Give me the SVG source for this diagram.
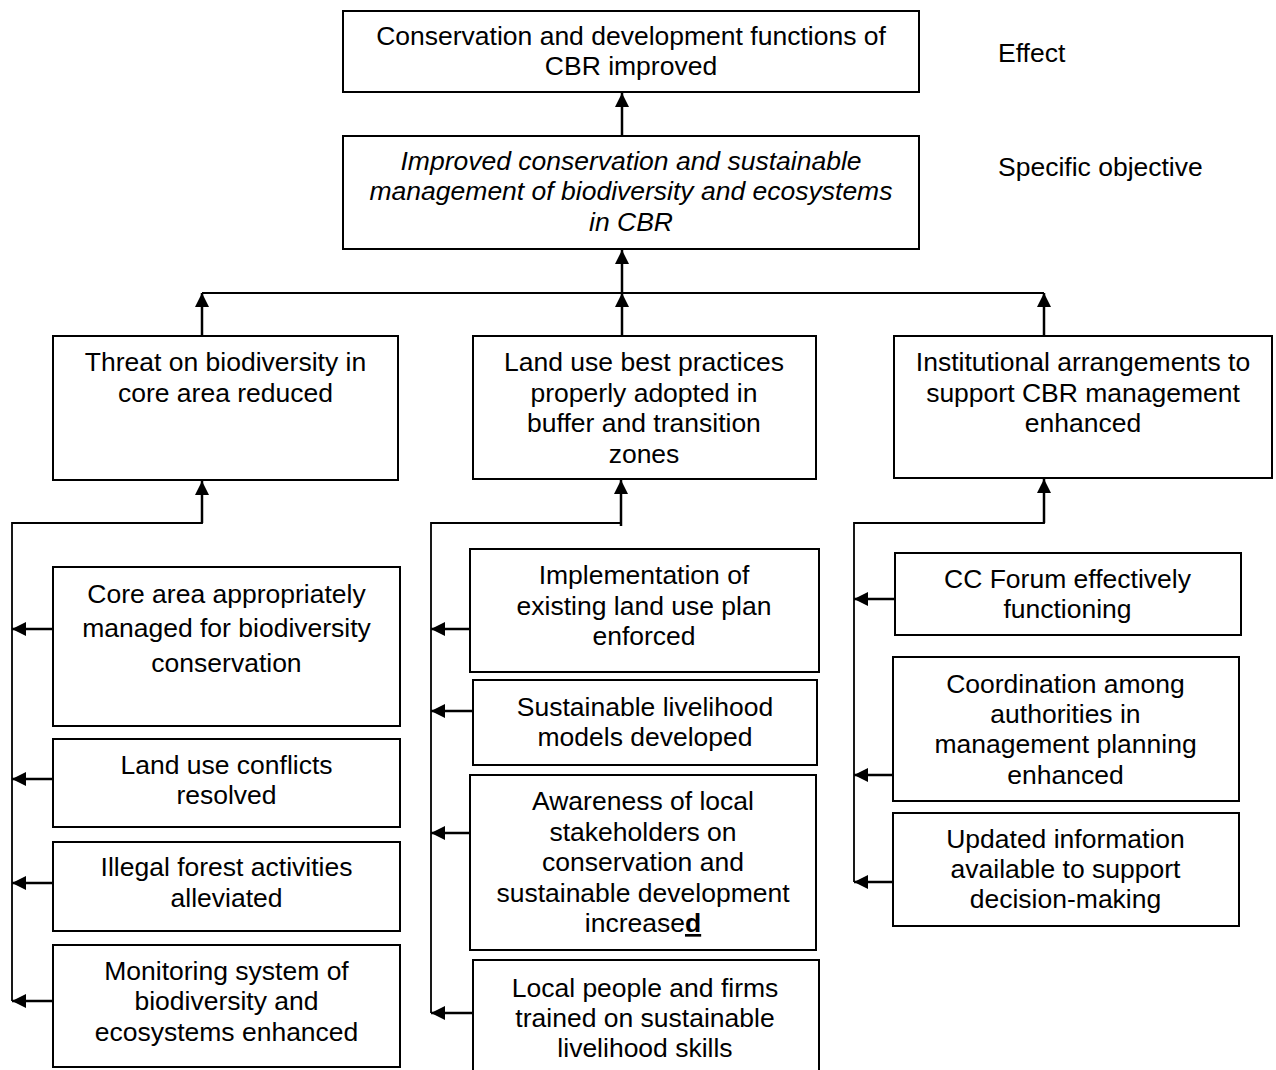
<svg xmlns="http://www.w3.org/2000/svg" width="1276" height="1070" viewBox="0 0 1276 1070">
<defs>
<style>
.box{fill:#fff;stroke:#000;stroke-width:2}
.t{font-family:"Liberation Sans",Arial,sans-serif;font-size:26.5px;fill:#000;text-anchor:middle}
.lbl{font-family:"Liberation Sans",Arial,sans-serif;font-size:26.5px;fill:#000}
.it{font-style:italic}
.c{fill:none;stroke:#000;stroke-width:2.5}
.bus{fill:none;stroke:#000;stroke-width:1.8}
</style>
<marker id="ah" markerUnits="userSpaceOnUse" markerWidth="14" markerHeight="14" refX="14" refY="7" orient="auto">
<path d="M0,0 L14,7 L0,14 z" fill="#000"/>
</marker>
</defs>
<rect width="1276" height="1070" fill="#fff"/>

<g id="connectors">
<line class="c" x1="622" y1="136" x2="622" y2="93" marker-end="url(#ah)"/>
<line class="bus" x1="202" y1="293" x2="1044" y2="293"/>
<line class="c" x1="622" y1="293" x2="622" y2="250" marker-end="url(#ah)"/>
<line class="c" x1="202" y1="336" x2="202" y2="293" marker-end="url(#ah)"/>
<line class="c" x1="622" y1="336" x2="622" y2="293" marker-end="url(#ah)"/>
<line class="c" x1="1044" y1="336" x2="1044" y2="293" marker-end="url(#ah)"/>

<polyline class="bus" points="12,1001 12,523 202,523 202,500"/>
<line class="c" x1="202" y1="523" x2="202" y2="481" marker-end="url(#ah)"/>
<line class="c" x1="53" y1="629" x2="12" y2="629" marker-end="url(#ah)"/>
<line class="c" x1="53" y1="779" x2="12" y2="779" marker-end="url(#ah)"/>
<line class="c" x1="53" y1="883" x2="12" y2="883" marker-end="url(#ah)"/>
<line class="c" x1="53" y1="1001" x2="12" y2="1001" marker-end="url(#ah)"/>

<polyline class="bus" points="431,1013 431,523 621,523 621,500"/>
<line class="c" x1="621" y1="526" x2="621" y2="480" marker-end="url(#ah)"/>
<line class="c" x1="470" y1="629" x2="431" y2="629" marker-end="url(#ah)"/>
<line class="c" x1="473" y1="711" x2="431" y2="711" marker-end="url(#ah)"/>
<line class="c" x1="473" y1="833" x2="431" y2="833" marker-end="url(#ah)"/>
<line class="c" x1="473" y1="1013" x2="431" y2="1013" marker-end="url(#ah)"/>

<polyline class="bus" points="854,882 854,523 1044,523 1044,500"/>
<line class="c" x1="1044" y1="523" x2="1044" y2="479" marker-end="url(#ah)"/>
<line class="c" x1="895" y1="599" x2="854" y2="599" marker-end="url(#ah)"/>
<line class="c" x1="893" y1="775" x2="854" y2="775" marker-end="url(#ah)"/>
<line class="c" x1="893" y1="882" x2="854" y2="882" marker-end="url(#ah)"/>
</g>

<g id="effect">
<rect class="box" x="343" y="11" width="576" height="81"/>
<text class="t" x="631" y="45">Conservation and development functions of</text>
<text class="t" x="631" y="75">CBR improved</text>
</g>
<g id="specific-objective">
<rect class="box" x="343" y="136" width="576" height="113"/>
<text class="t it" x="631" y="170">Improved conservation and sustainable</text>
<text class="t it" x="631" y="200">management of biodiversity and ecosystems</text>
<text class="t it" x="631" y="231">in CBR</text>
</g>
<g id="labels">
<text class="lbl" x="998" y="62">Effect</text>
<text class="lbl" x="998" y="176">Specific objective</text>
</g>

<g id="threat">
<rect class="box" x="53" y="336" width="345" height="144"/>
<text class="t" x="225.5" y="371">Threat on biodiversity in</text>
<text class="t" x="225.5" y="402">core area reduced</text>
</g>
<g id="landuse-best">
<rect class="box" x="473" y="336" width="343" height="143"/>
<text class="t" x="644" y="371">Land use best practices</text>
<text class="t" x="644" y="402">properly adopted in</text>
<text class="t" x="644" y="432">buffer and transition</text>
<text class="t" x="644" y="463">zones</text>
</g>
<g id="institutional">
<rect class="box" x="894" y="336" width="378" height="142"/>
<text class="t" x="1083" y="371">Institutional arrangements to</text>
<text class="t" x="1083" y="402">support CBR management</text>
<text class="t" x="1083" y="432">enhanced</text>
</g>

<g id="core-area">
<rect class="box" x="53" y="567" width="347" height="159"/>
<text class="t" x="226.5" y="603">Core area appropriately</text>
<text class="t" x="226.5" y="637">managed for biodiversity</text>
<text class="t" x="226.5" y="672">conservation</text>
</g>
<g id="landuse-conflicts">
<rect class="box" x="53" y="739" width="347" height="88"/>
<text class="t" x="226.5" y="774">Land use conflicts</text>
<text class="t" x="226.5" y="804">resolved</text>
</g>
<g id="illegal-forest">
<rect class="box" x="53" y="842" width="347" height="89"/>
<text class="t" x="226.5" y="876">Illegal forest activities</text>
<text class="t" x="226.5" y="907">alleviated</text>
</g>
<g id="monitoring">
<rect class="box" x="53" y="945" width="347" height="122"/>
<text class="t" x="226.5" y="980">Monitoring system of</text>
<text class="t" x="226.5" y="1010">biodiversity and</text>
<text class="t" x="226.5" y="1041">ecosystems enhanced</text>
</g>

<g id="implementation">
<rect class="box" x="470" y="549" width="349" height="123"/>
<text class="t" x="644" y="584">Implementation of</text>
<text class="t" x="644" y="615">existing land use plan</text>
<text class="t" x="644" y="645">enforced</text>
</g>
<g id="livelihood-models">
<rect class="box" x="473" y="680" width="344" height="85"/>
<text class="t" x="645" y="716">Sustainable livelihood</text>
<text class="t" x="645" y="746">models developed</text>
</g>
<g id="awareness">
<rect class="box" x="470" y="775" width="346" height="175"/>
<text class="t" x="643" y="810">Awareness of local</text>
<text class="t" x="643" y="841">stakeholders on</text>
<text class="t" x="643" y="871">conservation and</text>
<text class="t" x="643" y="902">sustainable development</text>
<text class="t" x="643" y="932">increase<tspan font-weight="bold" text-decoration="underline">d</tspan></text>
</g>
<g id="training">
<path class="box" d="M473,1075 L473,960 L819,960 L819,1075"/>
<text class="t" x="645" y="997">Local people and firms</text>
<text class="t" x="645" y="1027">trained on sustainable</text>
<text class="t" x="645" y="1057">livelihood skills</text>
</g>

<g id="cc-forum">
<rect class="box" x="895" y="553" width="346" height="82"/>
<text class="t" x="1067.5" y="588">CC Forum effectively</text>
<text class="t" x="1067.5" y="618">functioning</text>
</g>
<g id="coordination">
<rect class="box" x="893" y="657" width="346" height="144"/>
<text class="t" x="1065.5" y="693">Coordination among</text>
<text class="t" x="1065.5" y="723">authorities in</text>
<text class="t" x="1065.5" y="753">management planning</text>
<text class="t" x="1065.5" y="784">enhanced</text>
</g>
<g id="updated-info">
<rect class="box" x="893" y="813" width="346" height="113"/>
<text class="t" x="1065.5" y="848">Updated information</text>
<text class="t" x="1065.5" y="878">available to support</text>
<text class="t" x="1065.5" y="908">decision-making</text>
</g>
</svg>
